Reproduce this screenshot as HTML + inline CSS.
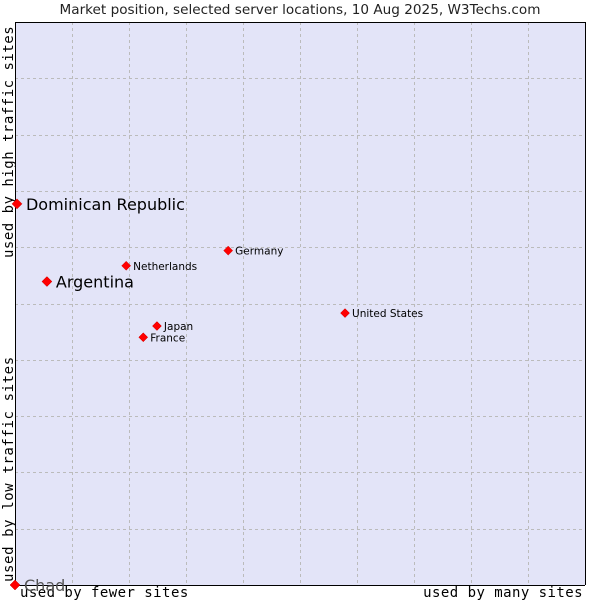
<!DOCTYPE html>
<html><head><meta charset="utf-8"><style>
body{margin:0;background:#fff;}
svg{display:block;}
</style></head><body>
<svg id="chart" width="600" height="600" xmlns="http://www.w3.org/2000/svg">
<text x="300" y="14" text-anchor="middle" font-family="DejaVu Sans, sans-serif" font-size="13.6" fill="#222">Market position, selected server locations, 10 Aug 2025, W3Techs.com</text>
<rect x="15" y="22" width="570" height="563" fill="#e3e4f8"/>
<g id="grid"></g>
<path d="M15.5 22 V585.5 H585" fill="none" stroke="#000" stroke-width="1"/>
<path d="M15 22.5 H585.5 V585" fill="none" stroke="#000" stroke-width="1"/>
<text x="20" y="597" font-family="DejaVu Sans Mono, monospace" font-size="14" letter-spacing="0.45" fill="#000">used by fewer sites</text>
<text x="583" y="597" text-anchor="end" font-family="DejaVu Sans Mono, monospace" font-size="14" letter-spacing="0.45" fill="#000">used by many sites</text>
<text transform="translate(13,582) rotate(-90)" font-family="DejaVu Sans Mono, monospace" font-size="14" letter-spacing="0.6" fill="#000">used by low traffic sites</text>
<text transform="translate(13,258) rotate(-90)" font-family="DejaVu Sans Mono, monospace" font-size="14" letter-spacing="0.5" fill="#000">used by high traffic sites</text>
<g id="points"></g>
</svg>
<script>
const countries = ["Chad","Dominican Republic","Argentina","Netherlands","Germany","Japan","France","United States"];
const xValues = [0, 0.35, 5.6, 19.5, 37.4, 24.9, 22.5, 57.9];
const yValues = [0, 67.7, 53.9, 56.7, 59.4, 46.0, 44.0, 48.3];
const highlighted = [true, true, true, false, false, false, false, false];
const L=15,R=585,T=22,B=585;
function sx(v){return L+v/100*(R-L);}
function sy(v){return B-v/100*(B-T);}
const NS="http://www.w3.org/2000/svg";
const grid=document.getElementById('grid');
for(let i=1;i<10;i++){
  const x=L+i*(R-L)/10, y=T+i*(B-T)/10;
  const lv=document.createElementNS(NS,'line');
  lv.setAttribute('x1',Math.round(x)+0.5);lv.setAttribute('x2',Math.round(x)+0.5);lv.setAttribute('y1',T);lv.setAttribute('y2',B);
  lv.setAttribute('stroke','#bbb');lv.setAttribute('stroke-dasharray','3,3');
  
  
  grid.appendChild(lv);
  const lh=document.createElementNS(NS,'line');
  lh.setAttribute('y1',Math.round(y)+0.5);lh.setAttribute('y2',Math.round(y)+0.5);lh.setAttribute('x1',L);lh.setAttribute('x2',R);
  lh.setAttribute('stroke','#bbb');lh.setAttribute('stroke-dasharray','3,3');
  
  
  grid.appendChild(lh);
}
const pts=document.getElementById('points');
countries.forEach((c,i)=>{
  const x=sx(xValues[i]), y=sy(yValues[i]);
  const d=document.createElementNS(NS,'path');
  const r=highlighted[i]?5:4.5;
  d.setAttribute('d',`M${x} ${y-r} L${x+r} ${y} L${x} ${y+r} L${x-r} ${y} Z`);
  d.setAttribute('fill','#f00');d.setAttribute('stroke','#c00');d.setAttribute('stroke-width','0.5');
  
  
  pts.appendChild(d);
  const t=document.createElementNS(NS,'text');
  t.setAttribute('x',x+(highlighted[i]?9:7));
  t.setAttribute('y',y+(highlighted[i]?6:4));
  t.setAttribute('font-family','DejaVu Sans, sans-serif');
  t.setAttribute('font-size',highlighted[i]?'16':'10.5');
  t.setAttribute('fill',c==="Chad"?'#555':'#000');
  t.textContent=c;
  
  
  pts.appendChild(t);
});
</script>
</body></html>
